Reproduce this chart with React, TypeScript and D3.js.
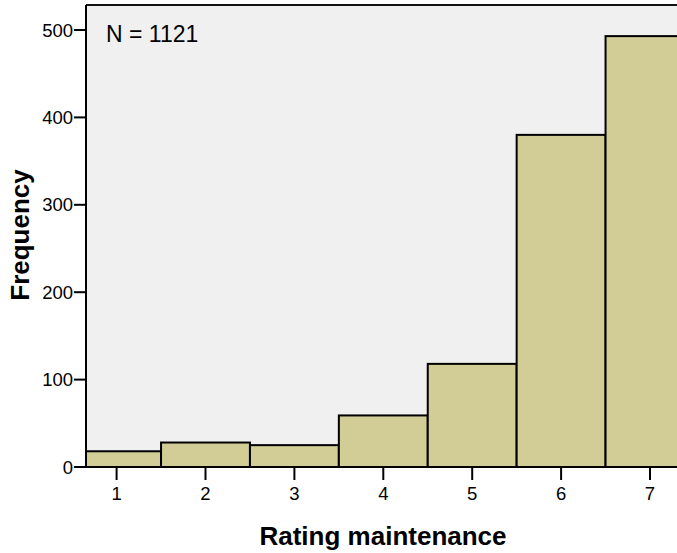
import React from "react";
import * as d3 from "d3";

const categories = [1, 2, 3, 4, 5, 6, 7];
const frequencies = [18, 28, 25, 59, 118, 380, 493];
const yTicks = [0, 100, 200, 300, 400, 500];
const xTitle = "Rating maintenance";
const yTitle = "Frequency";
const annotation = "N = 1121";

const W = 677;
const H = 553;
const plotLeft = 86;
const plotTop = 5;
const plotBottom = 467;
const plotRight = 720;

export default function App() {
  const x = d3.scaleLinear().domain([1, 7]).range([116.6, 650]);
  const y = d3.scaleLinear().domain([0, 500]).range([plotBottom, 30]);
  const font = "'Liberation Sans', Arial, sans-serif";
  const fill = "#d2cd97";

  return (
    <svg
      width={W}
      height={H}
      style={{ position: "absolute", left: 0, top: 0, background: "#fff" }}
      fontFamily={font}
    >
      <defs>
        <clipPath id="plotClip">
          <rect x={plotLeft} y={plotTop} width={plotRight - plotLeft} height={plotBottom - plotTop} />
        </clipPath>
      </defs>
      <rect
        x={plotLeft}
        y={plotTop}
        width={plotRight - plotLeft}
        height={plotBottom - plotTop}
        fill="#f0f0f0"
      />
      <g clipPath="url(#plotClip)">
        {categories.map((c, i) => (
          <rect
            key={c}
            x={x(c - 0.5)}
            y={y(frequencies[i])}
            width={x(c + 0.5) - x(c - 0.5)}
            height={plotBottom - y(frequencies[i])}
            fill={fill}
            stroke="#000"
            strokeWidth={2}
          />
        ))}
      </g>
      {/* frame */}
      <line x1={plotLeft} x2={plotRight} y1={plotTop} y2={plotTop} stroke="#111" strokeWidth={2} />
      <line x1={plotLeft} x2={plotLeft} y1={plotTop} y2={plotBottom} stroke="#000" strokeWidth={2} />
      <line x1={plotLeft - 1} x2={plotRight} y1={plotBottom} y2={plotBottom} stroke="#000" strokeWidth={2} />
      {/* y ticks */}
      {yTicks.map((t) => (
        <g key={t}>
          <line x1={74} x2={plotLeft} y1={y(t)} y2={y(t)} stroke="#000" strokeWidth={2} />
          <text
            x={73}
            y={y(t)}
            dy="0.36em"
            textAnchor="end"
            fontSize={18.5}
            fill="#000"
          >
            {t}
          </text>
        </g>
      ))}
      {/* x ticks */}
      {categories.map((c) => (
        <g key={c}>
          <line x1={x(c)} x2={x(c)} y1={plotBottom} y2={plotBottom + 13} stroke="#000" strokeWidth={2} />
          <text x={x(c)} y={500} textAnchor="middle" fontSize={18.5} fill="#000">
            {c}
          </text>
        </g>
      ))}
      <text x={106} y={42} fontSize={23} fill="#000">
        {annotation}
      </text>
      <text
        x={383}
        y={545}
        textAnchor="middle"
        fontSize={26}
        fontWeight="bold"
        fill="#000"
      >
        {xTitle}
      </text>
      <text
        transform={`translate(28.5,${(168 + 302) / 2}) rotate(-90)`}
        textAnchor="middle"
        fontSize={26}
        fontWeight="bold"
        fill="#000"
      >
        {yTitle}
      </text>
    </svg>
  );
}
